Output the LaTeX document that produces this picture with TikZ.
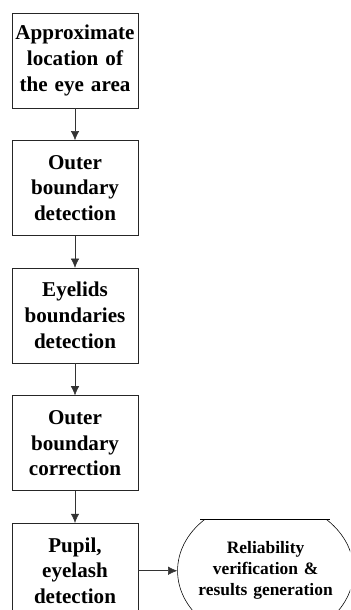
\documentclass[tikz,border=0pt]{standalone}
\usepackage{fontspec}
\setmainfont{Liberation Serif}
\usepackage{tikz}
\usetikzlibrary{shapes.geometric, arrows.meta}
\usetikzlibrary{positioning}
\tikzstyle{process} = [rectangle, minimum width=3.15cm, minimum height=2.375cm, text width=3.1cm, inner sep=0pt, align=center, draw=black!85, font=\fontsize{15}{18.4}\selectfont\bfseries]
\tikzstyle{outcome} = [ellipse, minimum width=4.4cm, minimum height=3.55cm, text width=3.45cm, inner sep=-0.25cm, align=center, draw=black, font=\fontsize{12.4}{14.9}\selectfont\bfseries]
\tikzstyle{arrow} = [thin, draw=black!80, -{Latex[length=2.3mm, width=2.1mm]}]

\begin{document}
\begin{tikzpicture}[node distance = 0.8cm]
\clip (0,0) rectangle (8.75,-15.25);
\node (locate) [process] at (1.875,-1.5125) {Approximate location of the eye area};
\node (outer) [process, below=0.8cm of locate] {Outer boundary detection};
\node (eyelids) [process, below=0.8cm of outer] {Eyelids boundaries detection};
\node (correct) [process, below=0.8cm of eyelids] {Outer boundary correction};
\node (pupil) [process, below=0.8cm of correct] {Pupil, eyelash detection};
\begin{scope}
\clip (4,-12.975) rectangle (8.75,-15.25);
\node (verify) [outcome, right=0.975cm of pupil] {Reliability verification \& results generation};
\end{scope}
\draw (5.0,-12.975) -- (8.25,-12.975);

\draw [arrow] (locate) -- (outer);
\draw [arrow] (outer) -- (eyelids);
\draw [arrow] (eyelids) -- (correct);
\draw [arrow] (correct) -- (pupil);
\draw [arrow] (pupil) -- (verify);
\end{tikzpicture}
\end{document}
